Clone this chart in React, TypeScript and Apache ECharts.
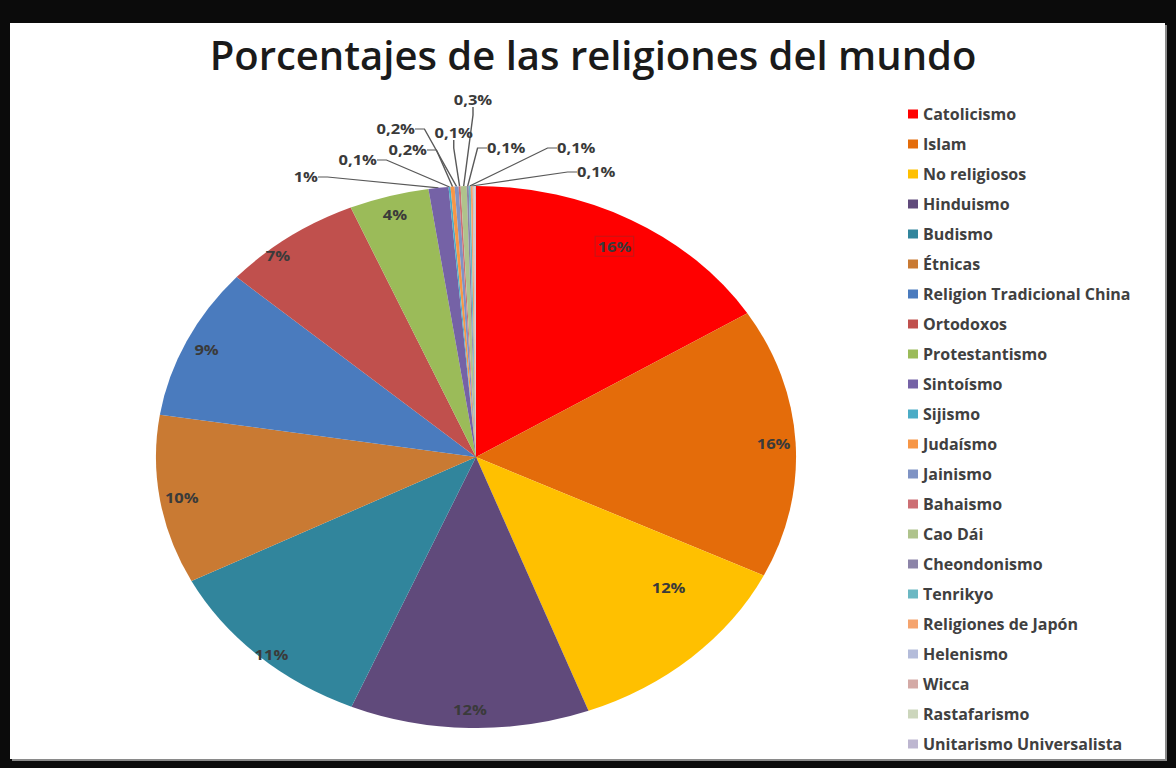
import React, { useEffect, useRef } from "react";
import * as echarts from "echarts";

// ---------- data ----------
const categories = [
  "Catolicismo",
  "Islam",
  "No religiosos",
  "Hinduismo",
  "Budismo",
  "Étnicas",
  "Religion Tradicional China",
  "Ortodoxos",
  "Protestantismo",
  "Sintoísmo",
  "Sijismo",
  "Judaísmo",
  "Jainismo",
  "Bahaismo",
  "Cao Dái",
  "Cheondonismo",
  "Tenrikyo",
  "Religiones de Japón",
  "Helenismo",
  "Wicca",
  "Rastafarismo",
  "Unitarismo Universalista",
];
const values = [16, 16, 12, 12, 11, 10, 9, 7, 4, 1, 0.1, 0.2, 0.2, 0.1, 0.3, 0.1, 0.1, 0.1, 0.04, 0.04, 0.04, 0.04];
const unlabelled = ["Helenismo", "Wicca", "Rastafarismo", "Unitarismo Universalista"];
const titleText = "Porcentajes de las religiones del mundo";

// ---------- styles ----------
const colors = [
  "#FF0000", "#E46C0A", "#FFC000", "#604A7B", "#31859C", "#C97A33", "#4A7BBE", "#C0504D",
  "#9BBB59", "#7562A6", "#4BACC6", "#F79646", "#7F93C4", "#CD6F74", "#AFC38C", "#8C84A8",
  "#6BB8C3", "#F5A46E", "#B4BCDA", "#D4AAA6", "#CCD6BC", "#BDB6D0",
];
const FONT = "'Open Sans', 'Noto Sans', sans-serif";
const CX = 476;
const CY = 457;
const R = 271;
const SX = 1.181; // horizontal stretch of the (elliptical) pie
// page positions of outside labels
const outsidePos: Record<string, { x: number; y: number; align: string }> = {
  "Sintoísmo": { x: 318, y: 177, align: "right" },
  "Sijismo": { x: 377, y: 160, align: "right" },
  "Judaísmo": { x: 427, y: 150, align: "right" },
  "Jainismo": { x: 415, y: 129, align: "right" },
  "Bahaismo": { x: 473, y: 133, align: "right" },
  "Cao Dái": { x: 473, y: 100, align: "center" },
  "Cheondonismo": { x: 487, y: 148, align: "left" },
  "Tenrikyo": { x: 557, y: 148, align: "left" },
  "Religiones de Japón": { x: 577, y: 172, align: "left" },
};
// page-pixel nudges of some inside labels (best-fit placement)
const insideNudge: Record<string, { dx: number; dy: number }> = {
  "No religiosos": { dx: -8, dy: -56 },
  "Ortodoxos": { dx: -24, dy: 3 },
  "Budismo": { dx: -2, dy: 12 },
  "Catolicismo": { dx: -6, dy: 10 },
};

const fmt = (v: number) => (v >= 1 ? String(v) : String(v).replace(".", ",")) + "%";

export default function App() {
  const bgRef = useRef<HTMLDivElement>(null);
  const pieRef = useRef<HTMLDivElement>(null);

  useEffect(() => {
    const bg = echarts.init(bgRef.current!, null, { renderer: "svg" });
    const pie = echarts.init(pieRef.current!, null, { renderer: "svg" });

    const baseData = categories.map((name, i) => ({
      name,
      value: values[i],
      itemStyle: { color: colors[i] },
    }));

    bg.setOption({
      animation: false,
      title: {
        text: titleText,
        left: 593,
        textAlign: "center",
        top: 34,
        padding: 0,
        textStyle: { fontFamily: FONT, fontSize: 40, fontWeight: 600, color: "#1a1a1a" },
      },
      legend: {
        orient: "vertical",
        left: 908,
        top: 105,
        padding: 0,
        itemWidth: 10,
        itemHeight: 9,
        itemGap: 12,
        icon: "rect",
        selectedMode: false,
        textStyle: { fontFamily: FONT, fontSize: 16, fontWeight: "bold", color: "#404040", lineHeight: 18 },
        data: categories,
      },
      series: [
        {
          type: "pie",
          center: [CX, CY],
          radius: 2,
          silent: true,
          label: { show: false },
          labelLine: { show: false },
          data: baseData,
        },
      ],
    });

    pie.setOption({
      animation: false,
      series: [
        {
          type: "pie",
          center: [CX, CY],
          radius: R,
          startAngle: 90,
          clockwise: true,
          silent: true,
          label: { show: false },
          labelLine: { show: false },
          data: baseData,
        },
        {
          type: "pie",
          center: [CX, CY],
          radius: [R * 0.84, R],
          startAngle: 90,
          clockwise: true,
          silent: true,
          avoidLabelOverlap: false,
          itemStyle: { color: "rgba(0,0,0,0)" },
          label: {
            show: true,
            position: "inside",
            fontFamily: FONT,
            fontSize: 14,
            fontWeight: "bold",
            color: "#3a3a3a",
            formatter: (p: any) => fmt(p.value),
          },
          labelLine: { show: false },
          labelLayout: (params: any) => {
            const name = categories[params.dataIndex];
            const pos = outsidePos[name];
            if (pos) {
              return {
                x: CX + (pos.x - CX) / SX,
                y: pos.y,
                align: pos.align,
                verticalAlign: "middle",
              };
            }
            const n = insideNudge[name];
            if (n) return { dx: n.dx / SX, dy: n.dy };
            return {};
          },
          data: categories.map((name, i) => {
            const isSmall = values[i] < 2;
            const hidden = unlabelled.includes(name);
            return {
              name,
              value: values[i],
              label: hidden
                ? { show: false }
                : isSmall
                ? { show: true, position: "outside", color: "#3a3a3a" }
                : i === 0
                ? { borderColor: "rgba(150,40,40,0.55)", borderWidth: 1, padding: [3, 2] }
                : {},
              labelLine: isSmall && !hidden
                ? { show: true, length: 8, length2: 8, lineStyle: { color: "#595959", width: 1.2 } }
                : { show: false },
            };
          }),
        },
      ],
    });

    return () => {
      bg.dispose();
      pie.dispose();
    };
  }, []);

  return (
    <div style={{ position: "fixed", left: 0, top: 0, width: 1176, height: 768, background: "#0b0b0b", overflow: "hidden" }}>
      <div
        style={{
          position: "absolute",
          left: 10,
          top: 23,
          width: 1155,
          height: 736,
          background: "#ffffff",
          boxShadow: "2px 2px 0 #8a8a8a",
        }}
      />
      <div ref={bgRef} style={{ position: "absolute", left: 0, top: 0, width: 1176, height: 768 }} />
      <div
        ref={pieRef}
        style={{
          position: "absolute",
          left: 0,
          top: 0,
          width: 1176,
          height: 768,
          transform: `scaleX(${SX})`,
          transformOrigin: `${CX}px 0px`,
        }}
      />
    </div>
  );
}
